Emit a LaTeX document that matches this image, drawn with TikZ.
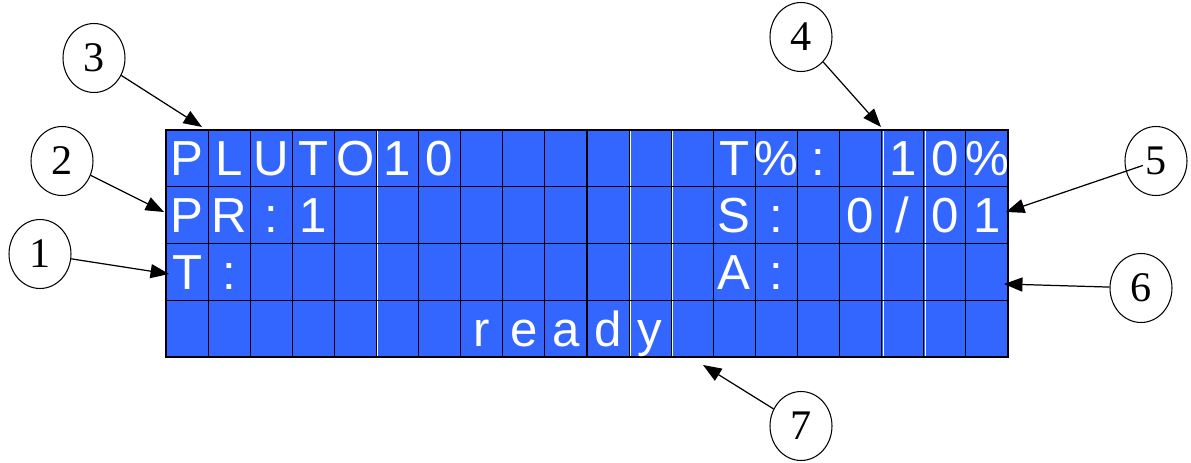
\documentclass[tikz,border=0pt]{standalone}
\usepackage{fontspec}
\setmainfont{Liberation Serif}
\newfontfamily\lcdfont{Liberation Sans}
\usetikzlibrary{shapes.geometric,arrows.meta,positioning,calc}
\definecolor{lcdblue}{RGB}{51,102,255}

\begin{document}
\begin{tikzpicture}[x=0.02cm, y=-0.02cm,
    callout/.style={draw, ellipse, line width=0.6pt, minimum width=1.24cm, minimum height=1.38cm, inner sep=0pt, font=\fontsize{24}{24}\selectfont},
    pointer/.style={-{Triangle[length=10.5pt, width=8pt]}, line width=0.7pt},
    glyph/.style={anchor=base, text=white, inner sep=0pt, font=\lcdfont\fontsize{28}{28}\selectfont}]
    \useasboundingbox (0,0) rectangle (1191,463);

    % Display
    \fill[lcdblue] (166,130) rectangle (1008,357);
    \foreach \c in {1,...,19}
        \draw[line width=0.6pt] ({166+42.1*\c},130) -- ({166+42.1*\c},357);
    \foreach \c in {5,11,12,17,18}
        \draw[white, line width=0.5pt] ({167.4+42.1*\c},131) -- ({167.4+42.1*\c},356);
    \foreach \r in {1,2,3}
        \draw[line width=0.6pt] (166,{130+56.75*\r}) -- (1008,{130+56.75*\r});
    \draw[line width=1.3pt] (166,130) rectangle (1008,357);

    % Characters (column/row/char)
    \foreach \c/\r/\ch in {
        0/1/P, 1/1/L, 2/1/U, 3/1/T, 4/1/O, 5/1/1, 6/1/0,
        13/1/T, 14/1/\%, 15/1/:, 17/1/1, 18/1/0, 19/1/\%,
        0/2/P, 1/2/R, 2/2/:, 3/2/1,
        13/2/S, 14/2/:, 16/2/0, 17/2/{/}, 18/2/0, 19/2/1,
        0/3/T, 1/3/:,
        13/3/A, 14/3/:,
        7/4/r, 8/4/e, 9/4/a, 10/4/d, 11/4/y
    } {
        \node[glyph] (g-\c-\r) at ({166+42.1*\c+21.05},{130+56.75*\r-11}) {\ch};
    }

    % Callouts
    \node[callout] (n1) at (40,254) {1};
    \node[callout] (n2) at (62,161) {2};
    \node[callout] (n3) at (94,58) {3};
    \node[callout] (n4) at (801,37) {4};
    \node[callout] (n5) at (1156,161) {5};
    \node[callout] (n6) at (1141,288) {6};
    \node[callout] (n7) at (801,426) {7};

    \coordinate (t1) at (169,274);
    \coordinate (t2) at (164,212);
    \coordinate (t3) at (202,127);
    \coordinate (t4) at (881,127);
    \coordinate (t5) at (1006,212);
    \coordinate (t6) at (1004,284);
    \coordinate (t7) at (703,365);

    \draw[pointer] (n1) -- (t1);
    \draw[pointer] (n2) -- (t2);
    \draw[pointer] (n3) -- (t3);
    \draw[pointer] (n4) -- (t4);
    \draw[pointer, shorten <=-0.36cm] (n5) -- (t5);
    \draw[pointer] (n6) -- (t6);
    \draw[pointer] (n7) -- (t7);
\end{tikzpicture}
\end{document}
